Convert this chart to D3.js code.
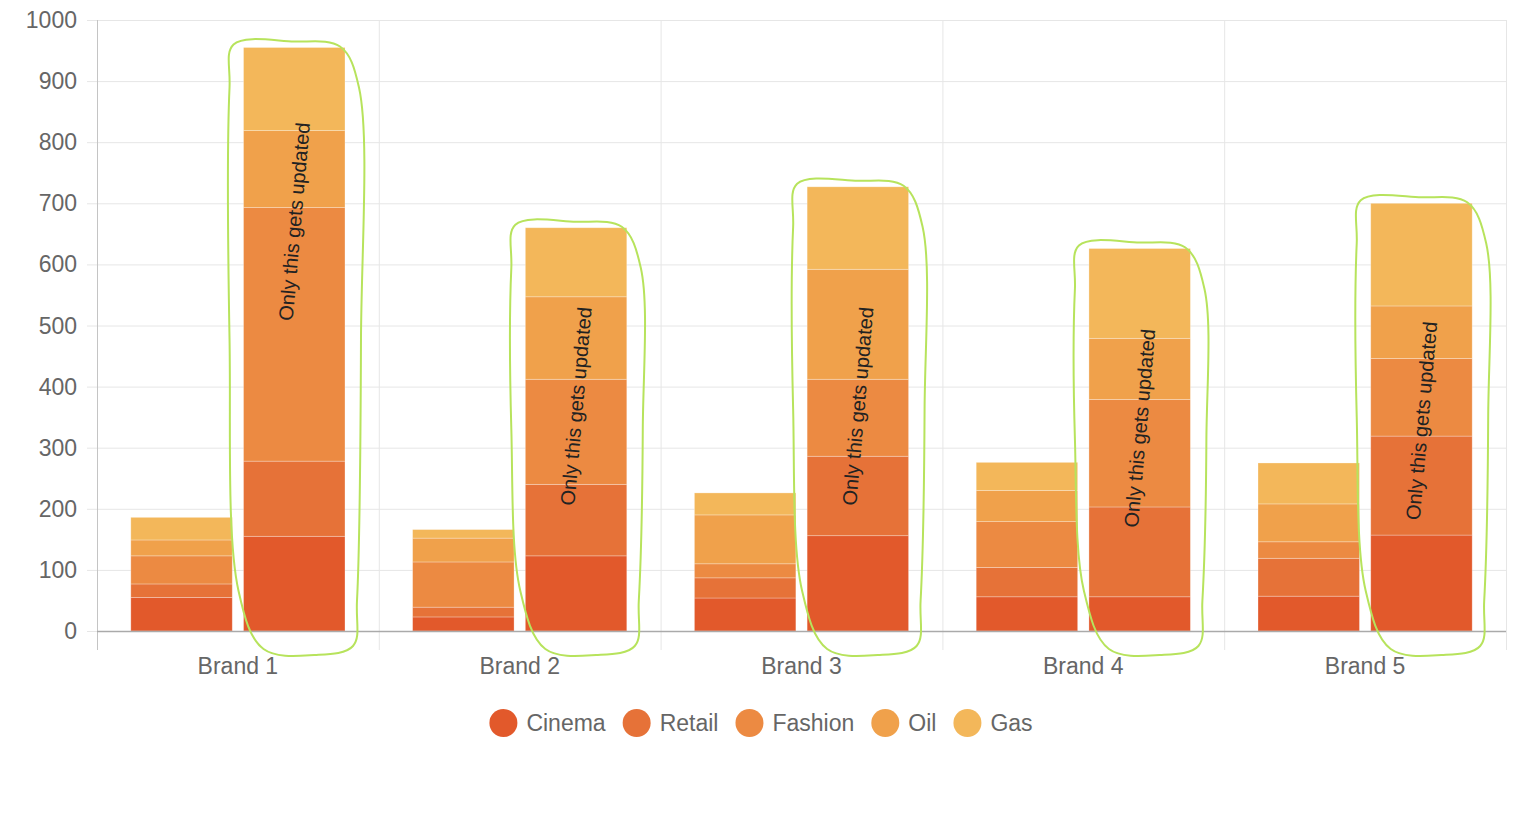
<!DOCTYPE html>
<html>
<head>
<meta charset="utf-8">
<script src="https://cdn.jsdelivr.net/npm/d3@7"></script>
<style>
  body { margin: 0; background: #fff; }
  svg { display: block; font-family: "Liberation Sans", Arial, sans-serif; }
</style>
</head>
<body>
<div id="chart"></div>
<script>
var brands = ["Brand 1", "Brand 2", "Brand 3", "Brand 4", "Brand 5"];
var seriesNames = ["Cinema", "Retail", "Fashion", "Oil", "Gas"];
var seriesColors = ["#e2592b", "#e67238", "#ec8a42", "#f0a14b", "#f3b75a"];
var yTicks = [0, 100, 200, 300, 400, 500, 600, 700, 800, 900, 1000];

// first (old) stack per brand
var cinemaA = [55, 23, 54, 56, 57];
var retailA = [22, 16, 33, 48, 62];
var fashionA = [46, 74, 23, 75, 27];
var oilA = [26, 39, 80, 51, 62];
var gasA = [37, 14, 36, 46, 67];

// second (updated) stack per brand
var cinemaB = [155, 123, 156, 56, 157];
var retailB = [123, 117, 130, 147, 162];
var fashionB = [415, 172, 126, 176, 127];
var oilB = [126, 135, 180, 100, 86];
var gasB = [136, 113, 135, 147, 168];

// hand written note on the updated stacks, value where the note is centred
var noteText = "Only this gets updated";
var noteAt = [670, 368, 368, 332, 344];

function init() {
    var w = 1522, h = 814;
    var left = 97, right = 1506, top = 20, base = 631;

    var svg = d3.select("#chart").append("svg")
        .attr("width", w)
        .attr("height", h);

    var x = d3.scaleBand().domain(brands).range([left, right]);
    var bw = x.bandwidth();
    var inner = d3.scaleBand().domain(["A", "B"])
        .range([0.1 * bw, 0.9 * bw])
        .paddingInner(0.1)
        .paddingOuter(0.05);
    var y = d3.scaleLinear().domain([0, 1000]).range([base, top]);

    // horizontal grid + left tick marks
    svg.append("g").selectAll("line")
        .data(yTicks)
        .enter().append("line")
        .attr("x1", left - 10)
        .attr("x2", right)
        .attr("y1", function(d){ return y(d) + 0.5; })
        .attr("y2", function(d){ return y(d) + 0.5; })
        .attr("stroke", "#e6e6e6")
        .attr("stroke-width", 1);

    // vertical grid at category edges
    var edges = brands.map(function(b){ return x(b); }).concat([right]);
    svg.append("g").selectAll("line")
        .data(edges)
        .enter().append("line")
        .attr("x1", function(d){ return d + 0.5; })
        .attr("x2", function(d){ return d + 0.5; })
        .attr("y1", top)
        .attr("y2", base + 19)
        .attr("stroke", function(d, i){ return i == 0 ? "#c4c4c4" : "#e6e6e6"; })
        .attr("stroke-width", 1);

    // y tick labels
    svg.append("g").selectAll("text")
        .data(yTicks)
        .enter().append("text")
        .attr("x", left - 20)
        .attr("y", function(d){ return y(d); })
        .attr("dy", "0.35em")
        .attr("text-anchor", "end")
        .attr("font-size", 23)
        .attr("fill", "#666")
        .text(function(d){ return d; });

    // stacked bars
    var stacks = [
        { key: "A", rows: [cinemaA, retailA, fashionA, oilA, gasA] },
        { key: "B", rows: [cinemaB, retailB, fashionB, oilB, gasB] }
    ];
    stacks.forEach(function(st){
        var table = brands.map(function(b, i){
            var o = { brand: b };
            seriesNames.forEach(function(s, j){ o[s] = st.rows[j][i]; });
            return o;
        });
        var layers = d3.stack().keys(seriesNames)(table);
        svg.append("g").selectAll("g")
            .data(layers)
            .enter().append("g")
            .attr("fill", function(d, i){ return seriesColors[i]; })
            .selectAll("rect")
            .data(function(d){ return d; })
            .enter().append("rect")
            .attr("x", function(d){ return x(d.data.brand) + inner(st.key); })
            .attr("width", inner.bandwidth())
            .attr("y", function(d){ return y(d[1]); })
            .attr("height", function(d){ return y(d[0]) - y(d[1]); })
            .attr("stroke", "rgba(255,255,255,0.35)")
            .attr("stroke-width", 0.8);
    });

    // x axis line
    svg.append("line")
        .attr("x1", left).attr("x2", right)
        .attr("y1", base + 0.5).attr("y2", base + 0.5)
        .attr("stroke", "#aaa")
        .attr("stroke-width", 1.5);

    // x labels
    svg.append("g").selectAll("text")
        .data(brands)
        .enter().append("text")
        .attr("x", function(d){ return x(d) + bw / 2; })
        .attr("y", base + 35)
        .attr("dy", "0.35em")
        .attr("text-anchor", "middle")
        .attr("font-size", 23)
        .attr("fill", "#666")
        .text(function(d){ return d; });

    // hand drawn loops round the updated stacks
    var totalsB = brands.map(function(b, i){
        return cinemaB[i] + retailB[i] + fashionB[i] + oilB[i] + gasB[i];
    });
    var loop = d3.line().curve(d3.curveCatmullRomClosed.alpha(0.5));
    svg.append("g").selectAll("path")
        .data(brands)
        .enter().append("path")
        .attr("d", function(b, i){
            var x0 = x(b) + inner("B"), x1 = x0 + inner.bandwidth();
            var xc = (x0 + x1) / 2, yt = y(totalsB[i]), yb = y(0);
            var ym = (yt + yb) / 2;
            return loop([
                [x0 - 10, yt - 3], [xc, yt - 6], [x1 - 5, yt - 1],
                [x1 + 14, yt + 40], [x1 + 16, ym], [x1 + 12, yb - 30],
                [x1 + 8, yb + 15], [xc + 20, yb + 24], [x0 + 20, yb + 18],
                [x0 - 5, yb - 40], [x0 - 14, ym], [x0 - 14, yt + 40]
            ]);
        })
        .attr("fill", "none")
        .attr("stroke", "#b7e35c")
        .attr("stroke-width", 2);

    // rotated notes
    svg.append("g").selectAll("text")
        .data(brands)
        .enter().append("text")
        .attr("transform", function(b, i){
            var cx = x(b) + inner("B") + inner.bandwidth() / 2;
            return "translate(" + cx + "," + y(noteAt[i]) + ") rotate(-85)";
        })
        .attr("text-anchor", "middle")
        .attr("dy", "0.35em")
        .attr("font-size", 20)
        .attr("fill", "#222")
        .text(noteText);

    // legend
    var lg = svg.append("g");
    var items = lg.selectAll("g")
        .data(seriesNames)
        .enter().append("g");
    items.append("circle")
        .attr("r", 14)
        .attr("cy", 723)
        .attr("fill", function(d, i){ return seriesColors[i]; });
    items.append("text")
        .attr("y", 723)
        .attr("dy", "0.35em")
        .attr("font-size", 23)
        .attr("fill", "#666")
        .text(function(d){ return d; });
    var widths = [];
    items.select("text").each(function(){ widths.push(this.getComputedTextLength()); });
    var total = d3.sum(widths) + seriesNames.length * 37 + (seriesNames.length - 1) * 17;
    var pos = w / 2 - total / 2;
    items.each(function(d, i){
        var g = d3.select(this);
        g.select("circle").attr("cx", pos + 14);
        g.select("text").attr("x", pos + 37);
        pos += 37 + widths[i] + 17;
    });
}
window.onload = init;
</script>
</body>
</html>
